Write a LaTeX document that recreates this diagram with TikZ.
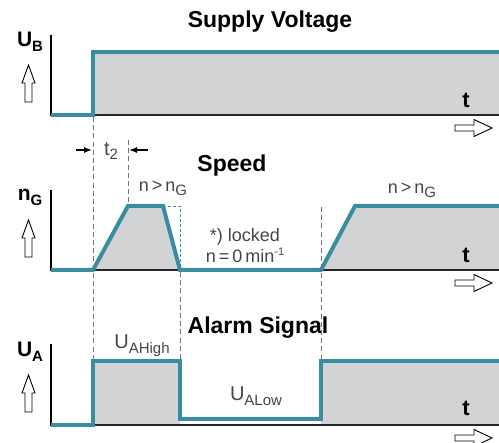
\documentclass[tikz,border=0pt]{standalone}
\usepackage{fontspec}
\setmainfont{Liberation Sans}
\usepackage{tikz}
\usetikzlibrary{arrows.meta, positioning}
\usepackage{xcolor}

\definecolor{sigteal}{RGB}{56,142,160}
\definecolor{areagray}{RGB}{210,211,213}
\definecolor{guidegray}{RGB}{115,115,115}
\definecolor{lblgray}{RGB}{70,70,70}

\newcommand{\lowsub}[1]{\raisebox{-0.45ex}{\fontsize{7.5}{8}\selectfont #1}}
\newcommand{\highsup}[1]{\raisebox{0.75ex}{\fontsize{5.5}{6}\selectfont #1}}

\tikzset{
  hollow up/.pic={
    \draw[line width=0.45pt, fill=white] (-3.5,37) -- (-3.5,18) -- (-6.5,18) -- (0,0) -- (6.5,18) -- (3.5,18) -- (3.5,37) -- cycle;
  },
  hollow right/.pic={
    \draw[line width=0.45pt, fill=white] (0,-3) -- (19,-3) -- (19,-8.5) -- (37,0) -- (19,8.5) -- (19,3) -- (0,3) -- cycle;
  }
}

\begin{document}
\begin{tikzpicture}[
      x=0.5pt, y=-0.5pt,
      signal/.style={draw=sigteal, line width=2pt, line join=miter},
      area/.style={fill=areagray},
      axis/.style={line width=0.6pt},
      base/.style={line width=0.9pt, black!85},
      guide/.style={guidegray, line width=0.5pt, dash pattern=on 2.5pt off 1.6pt},
      ideal/.style={sigteal, line width=0.4pt, dash pattern=on 1.5pt off 1pt},
      title/.style={font=\bfseries\fontsize{11.5}{13}\selectfont},
      ylbl/.style={font=\bfseries\fontsize{10.5}{12}\selectfont},
      tlbl/.style={font=\bfseries\fontsize{11}{12}\selectfont},
      note/.style={align=center, text=lblgray, font=\fontsize{9}{10.5}\selectfont, inner sep=1pt}
    ]

    \useasboundingbox (0,0) rectangle (499,443);

    % Supply Voltage
    \fill[area] (93,115) -- (93,52) -- (499,52) -- (499,115) -- cycle;
    \draw[base] (93,115) -- (499,115);
    \draw[axis] (51,35) -- (51,116);
    \draw[signal] (51,115) -- (93,115) -- (93,52) -- (499,52);

    \node[title] (supply) at (270,22) {Supply Voltage};
    \node[ylbl] (ub) at (30,42) {U\lowsub{\bfseries B}};
    \pic at (28.5,65) {hollow up};
    \node[tlbl] (t1) at (466,100) {t};
    \pic at (455,128) {hollow right};

    % Speed
    \fill[area] (93,270) -- (128,206) -- (163,206) -- (180,270) -- cycle;
    \fill[area] (321,270) -- (355,206) -- (499,206) -- (499,270) -- cycle;
    \draw[base] (93,270) -- (499,270);
    \draw[axis] (51,190) -- (51,271);
    \draw[ideal] (163,206) -- (180,206) -- (180,268);
    \draw[signal] (51,270) -- (93,270) -- (128,206) -- (163,206) -- (180,270) -- (321,270) -- (355,206) -- (499,206);

    \node[title] (speed) at (232,166) {Speed};
    \node[ylbl] (ng) at (30,197) {n\lowsub{\bfseries G}};
    \pic at (28.5,220) {hollow up};
    \node[tlbl] (t2) at (466,255) {t};
    \pic at (455,283) {hollow right};

    \node[note] (fast1) at (163,188) {n\,>\,n\lowsub{G}};
    \node[note] (fast2) at (412,190) {n\,>\,n\lowsub{G}};
    \node[note] (locked) at (245,246) {*) locked\\n\,=\,0\,min\highsup{-1}};

    % Alarm Signal
    \fill[area] (93,425) -- (93,361) -- (180,361) -- (180,425) -- cycle;
    \fill[area] (321,425) -- (321,361) -- (499,361) -- (499,425) -- cycle;
    \draw[base] (93,425) -- (499,425);
    \draw[axis] (51,344) -- (51,426);
    \draw[signal] (51,425) -- (93,425) -- (93,361) -- (180,361) -- (180,419) -- (321,419) -- (321,361) -- (499,361);

    \node[title] (alarm) at (258,328) {Alarm Signal};
    \node[ylbl] (ua) at (30,352) {U\lowsub{\bfseries A}};
    \pic at (28.5,375) {hollow up};
    \node[tlbl] (t3) at (466,408) {t};
    \pic at (455,438) {hollow right};

    \node[note, font=\fontsize{10}{11}\selectfont] (uhigh) at (142,346) {U\lowsub{AHigh}};
    \node[note, font=\fontsize{10}{11}\selectfont] (ulow) at (256,396) {U\lowsub{ALow}};

    % Time marks
    \draw[guide] (93,117) -- (93,359);
    \draw[guide] (128,140) -- (128,204);
    \draw[guide] (180,272) -- (180,359);
    \draw[guide] (321,207) -- (321,359);

    \coordinate (t2a) at (76,150);
    \coordinate (t2b) at (92,150);
    \coordinate (t2c) at (148,150);
    \coordinate (t2d) at (129,150);
    \draw[-{Latex[length=4pt,width=3pt]}, line width=0.6pt] (t2a) -- (t2b);
    \draw[-{Latex[length=4pt,width=3pt]}, line width=0.6pt] (t2c) -- (t2d);
    \node[note, font=\fontsize{10}{11}\selectfont] (t2lbl) at (111,151) {t\lowsub{2}};

  \end{tikzpicture}
\end{document}
